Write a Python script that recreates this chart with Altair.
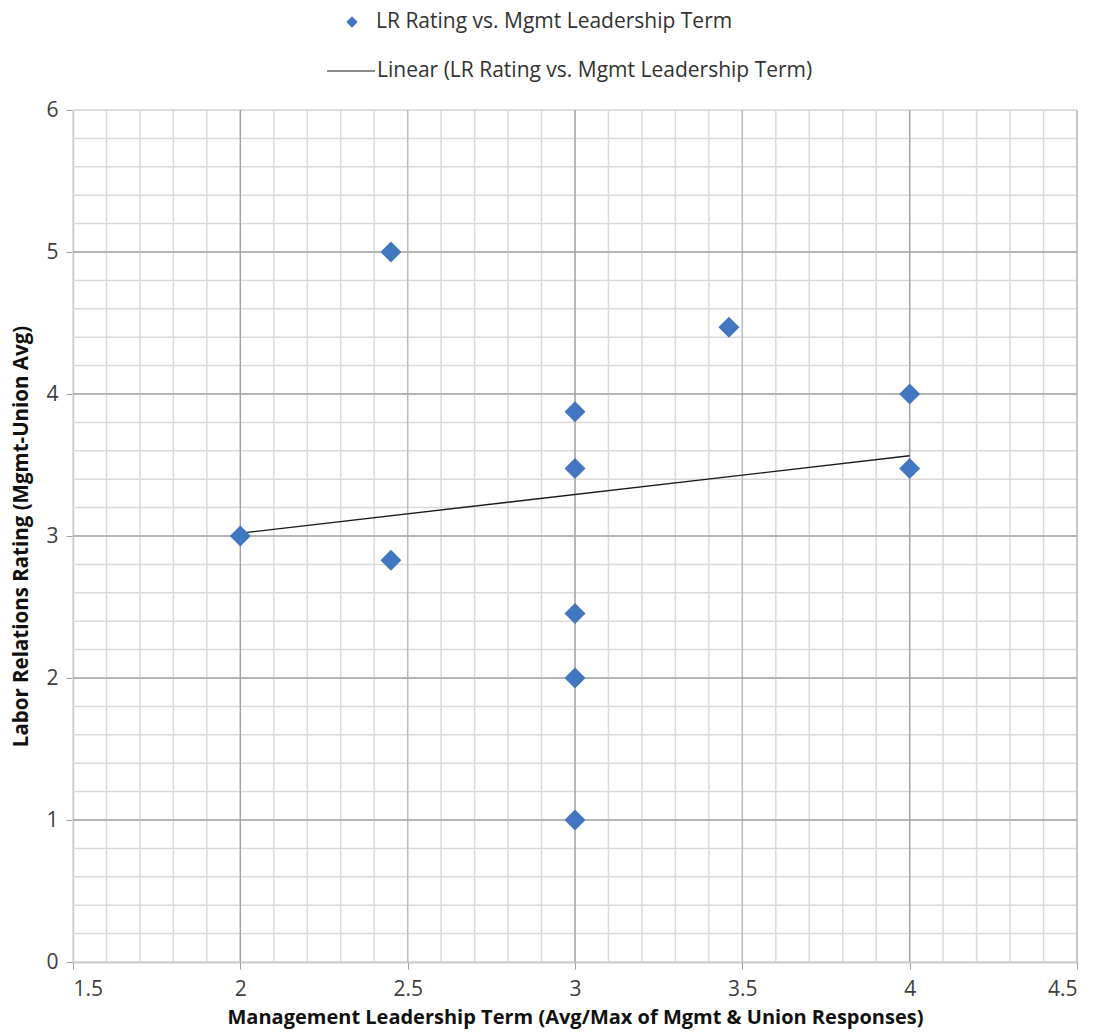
import altair as alt
import pandas as pd

# Data
mgmt_term = [2.0, 2.45, 2.45, 3.0, 3.0, 3.0, 3.0, 3.0, 3.46, 4.0, 4.0]
lr_rating = [3.0, 5.0, 2.83, 3.875, 3.475, 2.455, 2.0, 1.0, 4.47, 4.0, 3.475]

trend_x = [2.0, 4.0]
trend_y = [3.02, 3.565]

x_major = [1.5, 2.0, 2.5, 3.0, 3.5, 4.0, 4.5]
x_int = [2.0, 3.0, 4.0]
x_half = [2.5, 3.5, 4.5]
y_major = [0, 1, 2, 3, 4, 5, 6]
x_minor = [round(1.5 + 0.1 * i, 1) for i in range(31)]
y_minor = [round(0.2 * i, 1) for i in range(31)]

series_name = "LR Rating vs. Mgmt Leadership Term"
trend_name = "Linear (LR Rating vs. Mgmt Leadership Term)"

FONT = "Open Sans"
W, H = 1004, 852

pts = pd.DataFrame({"x": mgmt_term, "y": lr_rating})
trend = pd.DataFrame({"x": trend_x, "y": trend_y})

xscale = alt.Scale(domain=[1.5, 4.5], nice=False, zero=False)
yscale = alt.Scale(domain=[0, 6], nice=False, zero=False)

x_axis = alt.Axis(
    values=x_major, grid=False, title="Management Leadership Term (Avg/Max of Mgmt & Union Responses)",
    labelFont=FONT, labelFontSize=21, labelColor="#404040", labelPadding=9,
    tickColor="#a0a0a0", tickSize=7, domainColor="#a0a0a0", domainWidth=1.3,
    titleFont=FONT, titleFontSize=20, titleFontWeight="bold", titleColor="#111111", titlePadding=8,
    format=".1~f",
)
y_axis = alt.Axis(
    values=y_major, grid=False, title="Labor Relations Rating (Mgmt-Union Avg)",
    labelFont=FONT, labelFontSize=21, labelColor="#404040", labelPadding=8,
    tickColor="#a0a0a0", tickSize=7, domainColor="#a0a0a0", domainWidth=1.3,
    titleFont=FONT, titleFontSize=20.5, titleFontWeight="bold", titleColor="#111111", titlePadding=14,
    format="d",
)

minor_x = alt.Chart(pd.DataFrame({"v": x_minor})).mark_rule(color="#d9d9d9", strokeWidth=1.5).encode(
    x=alt.X("v:Q", scale=xscale, axis=x_axis)
)
minor_y = alt.Chart(pd.DataFrame({"v": y_minor})).mark_rule(color="#d9d9d9", strokeWidth=1.5).encode(
    y=alt.Y("v:Q", scale=yscale, axis=y_axis)
)
half_x = alt.Chart(pd.DataFrame({"v": x_half})).mark_rule(color="#bdbdbd", strokeWidth=1.4).encode(
    x=alt.X("v:Q", scale=xscale)
)
major_x = alt.Chart(pd.DataFrame({"v": x_int})).mark_rule(color="#a0a0a0", strokeWidth=1.3).encode(
    x=alt.X("v:Q", scale=xscale)
)
major_y = alt.Chart(pd.DataFrame({"v": y_major[1:6]})).mark_rule(color="#a6a6a6", strokeWidth=1.3).encode(
    y=alt.Y("v:Q", scale=yscale)
)

line = alt.Chart(trend).mark_line(color="#1a1a1a", strokeWidth=1.4).encode(
    x=alt.X("x:Q", scale=xscale), y=alt.Y("y:Q", scale=yscale)
)
points = alt.Chart(pts).mark_point(shape="diamond", filled=True, size=440, color="#4177c1", opacity=1).encode(
    x=alt.X("x:Q", scale=xscale), y=alt.Y("y:Q", scale=yscale)
)

# Legend (drawn manually at top centre)
leg_df = pd.DataFrame({"k": [0]})
leg_pt = alt.Chart(leg_df).mark_point(shape="diamond", filled=True, size=130, color="#4177c1", opacity=1).encode(
    x=alt.value(279), y=alt.value(-88)
)
leg_pt_txt = alt.Chart(leg_df).mark_text(align="left", baseline="middle", font=FONT, fontSize=21, color="#333333").encode(
    x=alt.value(303), y=alt.value(-88), text=alt.value(series_name)
)
leg_line = alt.Chart(leg_df).mark_rule(color="#1a1a1a", strokeWidth=1.2).encode(
    x=alt.value(254), x2=alt.value(302), y=alt.value(-39)
)
leg_line_txt = alt.Chart(leg_df).mark_text(align="left", baseline="middle", font=FONT, fontSize=21, color="#333333").encode(
    x=alt.value(304), y=alt.value(-39), text=alt.value(trend_name)
)

chart = alt.layer(
    minor_x, minor_y, half_x, major_x, major_y, line, points, leg_pt, leg_pt_txt, leg_line, leg_line_txt
).properties(
    width=W, height=H,
    autosize=alt.AutoSizeParams(type="none"),
    padding={"left": 73, "top": 110, "right": 20, "bottom": 74},
).configure_view(stroke=None).configure(background="white")

chart.save("out.html", embed_options={"renderer": "svg", "actions": False})
